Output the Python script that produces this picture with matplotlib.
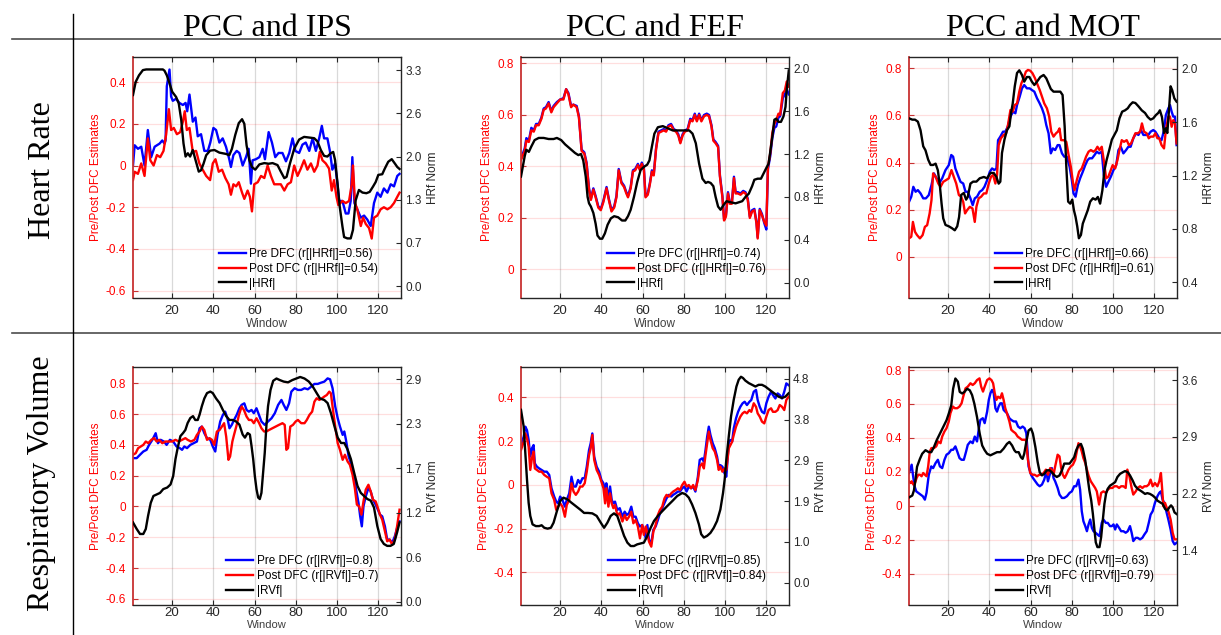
import matplotlib
matplotlib.use("Agg")
import matplotlib.pyplot as plt
from matplotlib.lines import Line2D
import numpy as np

plt.rcParams["font.family"] = ["Liberation Sans", "DejaVu Sans"]

# ---------------------------------------------------------------- labels
col_titles = ["PCC and IPS", "PCC and FEF", "PCC and MOT"]
row_titles = ["Heart Rate", "Respiratory Volume"]
row_signal = ["HRf", "RVf"]
window_ticks = [20, 40, 60, 80, 100, 120]
r_pre = [[0.56, 0.74, 0.66], [0.8, 0.85, 0.63]]
r_post = [[0.54, 0.76, 0.61], [0.7, 0.84, 0.79]]

# ---------------------------------------------------------------- PCC-IPS, heart rate
ips_hr_pre_w = [1, 1.8, 3.4, 5.0, 6.6, 8.2, 9.8, 11.5, 13.9, 15.2, 16.3, 16.8, 17.4, 18.7, 19.5, 20.3, 21.9, 23.5, 25.2, 26.5, 27.3, 28.4, 30.0, 31.3, 32.4, 34.0, 35.6, 37.3, 38.5, 40.0, 41.3, 42.9, 44.5, 46.1, 47.7, 48.5, 49.7, 51.3, 52.6, 54.2, 55.8, 57.1, 58.2, 59.0, 60.6, 62.3, 63.9, 65.0, 66.8, 68.4, 70.0, 71.6, 73.5, 75.2, 76.8, 78.4, 79.7, 81.6, 83.2, 84.8, 86.5, 88.1, 89.7, 91.3, 92.6, 93.7, 95.3, 96.5, 97.7, 99.0, 100.2, 101.0, 102.6, 104.2, 105.5, 106.6, 107.4, 108.4, 109.8, 111.5, 113.1, 114.7, 116.3, 117.9, 119.5, 121.1, 122.7, 124.4, 126.0, 127.6, 129.2, 130.3]
ips_hr_pre = [0.0, 0.097, 0.08, 0.09, 0.0, 0.17, 0.04, 0.09, 0.105, 0.12, 0.105, 0.12, 0.38, 0.46, 0.33, 0.31, 0.32, 0.30, 0.29, 0.30, 0.26, 0.34, 0.21, 0.23, 0.14, 0.15, 0.07, 0.07, 0.11, 0.18, 0.17, 0.11, 0.13, 0.09, 0.03, -0.007, 0.05, 0.07, 0.06, 0.0, 0.04, 0.08, -0.087, 0.025, 0.03, 0.04, 0.08, 0.03, 0.16, 0.11, 0.04, 0.06, 0.06, 0.02, 0.06, 0.13, 0.07, 0.06, 0.10, 0.11, 0.07, 0.13, 0.07, 0.13, 0.19, 0.13, 0.13, 0.07, -0.02, 0.01, -0.09, -0.17, -0.17, -0.23, -0.23, -0.17, 0.04, -0.18, -0.21, -0.25, -0.24, -0.26, -0.29, -0.18, -0.13, -0.15, -0.11, -0.13, -0.09, -0.10, -0.05, -0.04]
ips_hr_post_w = [1, 1.8, 3.4, 5.0, 6.6, 8.2, 9.4, 11.0, 12.6, 14.2, 15.8, 17.1, 18.4, 19.5, 20.8, 22.3, 23.9, 25.2, 26.1, 27.1, 28.4, 30.0, 31.6, 33.2, 34.8, 36.5, 38.4, 39.7, 41.0, 42.6, 44.2, 45.8, 47.4, 48.5, 49.7, 51.0, 52.3, 53.9, 55.0, 56.6, 57.7, 58.7, 59.8, 61.5, 63.1, 64.7, 66.3, 67.9, 69.5, 71.1, 72.7, 74.4, 76.0, 77.6, 79.2, 80.8, 82.4, 84.0, 85.6, 87.3, 88.9, 90.5, 91.6, 92.9, 94.5, 96.1, 97.4, 98.5, 99.7, 100.6, 102.6, 104.2, 105.8, 107.1, 107.7, 108.7, 109.8, 111.5, 112.6, 113.9, 115.5, 116.8, 117.9, 119.5, 121.1, 122.7, 124.4, 126.0, 127.6, 129.2, 130.3]
ips_hr_post = [-0.07, -0.03, -0.04, 0.01, -0.05, 0.13, 0.025, 0.0, 0.05, 0.04, 0.07, 0.15, 0.27, 0.17, 0.18, 0.15, 0.16, 0.21, 0.26, 0.17, 0.18, 0.065, 0.07, 0.01, -0.02, -0.05, -0.07, 0.01, 0.03, -0.03, -0.02, -0.06, -0.09, -0.14, -0.09, -0.10, -0.08, -0.13, -0.16, -0.12, -0.15, -0.22, -0.09, -0.08, -0.05, -0.06, 0.0, -0.05, -0.09, -0.09, -0.09, -0.12, -0.09, -0.08, 0.0, -0.05, -0.015, 0.025, -0.02, 0.01, -0.03, 0.0, 0.065, 0.025, 0.01, -0.015, -0.12, -0.07, -0.15, -0.19, -0.17, -0.18, -0.17, -0.09, 0.0, -0.18, -0.21, -0.29, -0.25, -0.28, -0.30, -0.35, -0.25, -0.24, -0.21, -0.20, -0.21, -0.20, -0.18, -0.15, -0.13]
ips_hr_norm_w = [1, 2.3, 3.9, 5.8, 7.4, 11.5, 15.5, 16.3, 17.4, 18.7, 20.0, 21.9, 23.2, 24.4, 25.5, 26.5, 27.6, 28.7, 30.0, 31.3, 32.9, 34.0, 35.2, 36.5, 38.4, 40.5, 42.9, 46.1, 47.7, 49.0, 50.6, 52.3, 53.9, 55.0, 56.1, 57.4, 58.7, 60.3, 62.3, 64.7, 66.8, 68.7, 71.1, 72.7, 74.4, 75.5, 77.1, 79.2, 81.6, 84.0, 86.5, 88.9, 90.5, 92.1, 93.7, 95.3, 96.9, 98.1, 99.0, 100.2, 101.3, 102.6, 103.4, 105.0, 106.6, 107.7, 109.0, 110.6, 112.3, 114.2, 115.8, 117.4, 118.7, 120.0, 121.9, 123.2, 124.8, 126.5, 128.1, 129.2, 130.3]
ips_hr_norm = [2.92, 3.12, 3.22, 3.30, 3.31, 3.31, 3.31, 3.29, 3.22, 3.10, 2.97, 2.89, 2.79, 2.54, 2.18, 1.98, 2.03, 1.98, 2.08, 1.93, 1.75, 1.77, 1.87, 2.0, 2.07, 2.08, 2.04, 2.02, 2.0, 2.1, 2.31, 2.49, 2.55, 2.48, 2.15, 1.93, 1.82, 1.78, 1.86, 1.88, 1.87, 1.88, 1.85, 1.75, 1.65, 1.67, 1.87, 2.10, 2.24, 2.28, 2.27, 2.26, 2.21, 2.08, 1.99, 1.98, 2.03, 2.05, 1.93, 1.57, 1.21, 0.91, 0.75, 0.73, 0.73, 0.86, 1.31, 1.47, 1.43, 1.42, 1.44, 1.52, 1.59, 1.70, 1.71, 1.80, 1.90, 1.94, 1.87, 1.82, 1.79]

# ---------------------------------------------------------------- PCC-FEF, heart rate
fef_hr_w = [1, 2.8, 3.6, 4.8, 6.0, 7.2, 8.3, 9.6, 10.9, 12.0, 13.1, 14.4, 15.7, 16.8, 18.4, 20.0, 21.6, 22.9, 24.0, 25.3, 26.4, 28.0, 29.1, 30.4, 31.7, 32.8, 34.0, 34.9, 36.1, 37.2, 38.5, 39.7, 40.9, 42.5, 43.6, 44.9, 46.2, 47.3, 48.4, 49.7, 51.0, 52.1, 52.9, 54.2, 55.3, 56.4, 57.7, 58.7, 59.6, 60.6, 61.4, 62.5, 63.5, 64.5, 65.4, 66.5, 67.7, 69.0, 70.2, 71.4, 72.5, 73.8, 75.1, 76.2, 77.3, 78.3, 79.4, 80.5, 81.8, 83.1, 84.2, 85.3, 86.3, 87.4, 88.5, 89.8, 91.1, 92.2, 93.4, 94.3, 95.4, 96.6, 97.5, 98.7, 99.5, 100.4, 101.4, 102.3, 103.3, 104.3, 105.1, 106.2, 107.5, 108.8, 109.9, 111.0, 112.0, 113.1, 114.2, 115.2, 115.8, 116.8, 117.9, 119.0, 120.0, 120.8, 121.9, 122.9, 123.9, 124.8, 125.9, 126.7, 128.0, 129.0, 129.9, 130.9]
fef_hr_pre = [0.43, 0.47, 0.51, 0.50, 0.55, 0.54, 0.565, 0.565, 0.59, 0.625, 0.63, 0.65, 0.615, 0.635, 0.65, 0.66, 0.665, 0.70, 0.685, 0.635, 0.64, 0.635, 0.595, 0.465, 0.455, 0.415, 0.315, 0.275, 0.315, 0.285, 0.245, 0.235, 0.265, 0.32, 0.275, 0.23, 0.245, 0.285, 0.39, 0.34, 0.325, 0.30, 0.285, 0.32, 0.385, 0.39, 0.41, 0.39, 0.415, 0.395, 0.285, 0.295, 0.335, 0.385, 0.37, 0.47, 0.535, 0.54, 0.545, 0.54, 0.56, 0.565, 0.545, 0.54, 0.525, 0.495, 0.525, 0.54, 0.545, 0.585, 0.58, 0.605, 0.58, 0.605, 0.58, 0.60, 0.605, 0.60, 0.56, 0.505, 0.495, 0.48, 0.365, 0.285, 0.195, 0.21, 0.30, 0.26, 0.26, 0.36, 0.30, 0.30, 0.295, 0.305, 0.30, 0.275, 0.205, 0.23, 0.235, 0.185, 0.125, 0.235, 0.215, 0.18, 0.155, 0.39, 0.44, 0.51, 0.55, 0.555, 0.59, 0.595, 0.665, 0.68, 0.70, 0.68]
fef_hr_post = [0.425, 0.46, 0.50, 0.495, 0.54, 0.535, 0.56, 0.56, 0.585, 0.62, 0.625, 0.645, 0.61, 0.63, 0.645, 0.66, 0.66, 0.70, 0.68, 0.63, 0.64, 0.63, 0.59, 0.46, 0.45, 0.41, 0.31, 0.27, 0.31, 0.28, 0.24, 0.23, 0.26, 0.315, 0.27, 0.225, 0.24, 0.28, 0.385, 0.335, 0.32, 0.295, 0.28, 0.315, 0.38, 0.385, 0.405, 0.385, 0.41, 0.39, 0.28, 0.29, 0.33, 0.38, 0.365, 0.465, 0.53, 0.535, 0.54, 0.535, 0.555, 0.56, 0.54, 0.535, 0.52, 0.49, 0.52, 0.535, 0.54, 0.58, 0.575, 0.60, 0.575, 0.60, 0.575, 0.595, 0.60, 0.595, 0.555, 0.50, 0.49, 0.475, 0.36, 0.28, 0.19, 0.205, 0.295, 0.255, 0.255, 0.355, 0.295, 0.295, 0.29, 0.30, 0.295, 0.27, 0.20, 0.225, 0.23, 0.18, 0.12, 0.23, 0.21, 0.185, 0.17, 0.40, 0.45, 0.53, 0.565, 0.58, 0.605, 0.60, 0.685, 0.695, 0.73, 0.71]
fef_hr_norm_w = [1, 2.8, 3.6, 4.8, 6.0, 7.6, 9.6, 12.0, 14.4, 16.8, 18.4, 20.5, 22.4, 24.8, 27.2, 28.8, 30.1, 31.2, 32.4, 33.3, 34.0, 34.9, 36.1, 37.2, 38.1, 39.3, 40.4, 41.7, 43.0, 44.6, 46.2, 48.1, 50.0, 51.6, 52.9, 54.2, 55.8, 57.4, 59.0, 60.6, 62.2, 63.3, 64.5, 65.7, 67.4, 69.8, 72.2, 74.6, 77.0, 80.2, 82.6, 84.2, 85.8, 87.4, 89.0, 90.6, 91.7, 93.0, 94.3, 95.4, 96.6, 97.8, 99.1, 100.7, 102.7, 105.1, 106.7, 108.3, 109.9, 111.5, 113.1, 114.2, 115.8, 117.4, 118.7, 120.0, 121.1, 121.9, 122.9, 123.9, 124.8, 125.9, 127.1, 128.3, 129.3, 129.9, 130.9]
fef_hr_norm = [0.99, 1.18, 1.24, 1.22, 1.27, 1.33, 1.35, 1.35, 1.34, 1.34, 1.35, 1.33, 1.29, 1.25, 1.21, 1.19, 1.20, 1.14, 0.99, 0.80, 0.74, 0.71, 0.65, 0.55, 0.44, 0.41, 0.41, 0.46, 0.54, 0.60, 0.62, 0.61, 0.58, 0.58, 0.62, 0.68, 0.80, 0.94, 1.05, 1.08, 1.10, 1.14, 1.27, 1.39, 1.45, 1.46, 1.44, 1.42, 1.42, 1.42, 1.42, 1.39, 1.30, 1.11, 0.97, 0.93, 0.94, 0.93, 0.90, 0.80, 0.71, 0.68, 0.72, 0.76, 0.75, 0.74, 0.75, 0.76, 0.80, 0.83, 0.90, 0.96, 0.97, 0.97, 1.02, 1.07, 1.11, 1.22, 1.36, 1.52, 1.53, 1.50, 1.50, 1.55, 1.64, 1.80, 1.98]

# ---------------------------------------------------------------- PCC-MOT, heart rate
mot_hr_pre_w = [1, 2.1, 3.1, 4.2, 5.3, 6.6, 7.9, 9.2, 10.6, 11.9, 13.1, 14.4, 15.6, 17.1, 18.7, 20.3, 21.5, 22.4, 23.5, 24.7, 26.0, 27.3, 28.4, 29.5, 30.8, 31.9, 32.9, 34.0, 35.3, 36.5, 37.6, 38.9, 40.2, 41.3, 42.4, 43.4, 44.2, 45.3, 46.6, 47.7, 48.9, 50.2, 51.5, 52.6, 53.4, 54.7, 55.8, 56.9, 58.2, 59.5, 60.6, 61.8, 63.1, 64.4, 65.5, 66.6, 67.6, 68.7, 69.8, 70.8, 71.9, 73.1, 74.0, 75.2, 76.3, 77.6, 78.9, 80.0, 80.8, 81.8, 82.9, 84.0, 85.3, 86.5, 87.6, 88.5, 89.8, 91.0, 92.1, 93.2, 94.5, 95.5, 96.6, 97.7, 98.9, 100.2, 101.5, 102.6, 103.7, 105.0, 106.3, 107.4, 108.5, 109.8, 111.1, 112.3, 113.5, 114.7, 116.0, 117.1, 118.2, 119.5, 120.5, 121.5, 122.4, 123.5, 124.7, 125.6, 126.8, 127.6, 128.4, 129.2, 130.0, 130.8]
mot_hr_pre = [0.233, 0.255, 0.297, 0.276, 0.283, 0.269, 0.248, 0.248, 0.262, 0.304, 0.354, 0.333, 0.311, 0.333, 0.368, 0.389, 0.432, 0.425, 0.375, 0.347, 0.318, 0.311, 0.276, 0.276, 0.248, 0.219, 0.248, 0.255, 0.276, 0.283, 0.297, 0.325, 0.361, 0.375, 0.368, 0.375, 0.495, 0.510, 0.531, 0.531, 0.552, 0.595, 0.616, 0.609, 0.644, 0.680, 0.715, 0.729, 0.715, 0.715, 0.708, 0.701, 0.673, 0.651, 0.630, 0.602, 0.559, 0.524, 0.439, 0.460, 0.453, 0.474, 0.474, 0.439, 0.425, 0.425, 0.382, 0.325, 0.269, 0.255, 0.304, 0.333, 0.361, 0.389, 0.410, 0.418, 0.418, 0.432, 0.446, 0.439, 0.446, 0.347, 0.297, 0.318, 0.340, 0.368, 0.389, 0.453, 0.467, 0.439, 0.453, 0.467, 0.467, 0.503, 0.524, 0.517, 0.538, 0.517, 0.517, 0.517, 0.531, 0.538, 0.531, 0.517, 0.503, 0.495, 0.538, 0.602, 0.630, 0.644, 0.616, 0.595, 0.595, 0.474]
mot_hr_post_w = [1, 2.1, 2.9, 3.9, 4.9, 6.3, 7.6, 8.7, 9.8, 11.0, 11.9, 12.7, 13.9, 15.2, 16.3, 17.6, 18.9, 20.3, 21.6, 22.7, 23.9, 25.2, 26.3, 27.3, 28.2, 29.2, 30.5, 31.8, 32.9, 33.7, 34.8, 36.0, 37.3, 38.5, 39.7, 40.8, 41.8, 42.9, 43.7, 44.5, 45.6, 46.9, 48.1, 49.0, 50.2, 51.3, 52.3, 53.4, 54.5, 55.5, 56.6, 57.7, 58.7, 59.8, 60.9, 62.1, 63.1, 64.4, 65.5, 66.6, 67.9, 69.0, 70.0, 71.1, 72.3, 73.2, 74.0, 74.8, 76.0, 77.3, 78.4, 79.5, 80.5, 81.3, 82.4, 83.5, 84.8, 86.0, 86.9, 88.1, 89.2, 90.5, 91.5, 92.4, 93.4, 94.5, 95.6, 96.6, 97.7, 98.9, 99.8, 101.0, 102.1, 103.1, 104.2, 105.3, 106.6, 107.7, 108.7, 109.8, 110.8, 111.9, 113.1, 114.0, 115.0, 116.3, 117.3, 118.2, 119.5, 120.5, 121.5, 122.4, 123.5, 124.7, 125.6, 126.8, 127.6, 128.4, 129.2, 130.0, 130.8]
mot_hr_post = [0.078, 0.085, 0.148, 0.106, 0.092, 0.078, 0.092, 0.127, 0.134, 0.184, 0.240, 0.354, 0.340, 0.311, 0.297, 0.318, 0.325, 0.333, 0.368, 0.340, 0.311, 0.262, 0.255, 0.233, 0.184, 0.198, 0.212, 0.205, 0.148, 0.212, 0.248, 0.255, 0.269, 0.269, 0.311, 0.340, 0.347, 0.311, 0.347, 0.474, 0.503, 0.517, 0.524, 0.559, 0.623, 0.616, 0.644, 0.651, 0.701, 0.736, 0.758, 0.786, 0.793, 0.790, 0.779, 0.758, 0.736, 0.708, 0.680, 0.651, 0.630, 0.595, 0.531, 0.510, 0.524, 0.531, 0.545, 0.495, 0.495, 0.488, 0.432, 0.382, 0.318, 0.283, 0.325, 0.361, 0.375, 0.403, 0.425, 0.446, 0.453, 0.446, 0.453, 0.467, 0.453, 0.467, 0.403, 0.333, 0.340, 0.368, 0.389, 0.375, 0.410, 0.453, 0.495, 0.488, 0.495, 0.474, 0.481, 0.503, 0.524, 0.524, 0.531, 0.566, 0.531, 0.524, 0.503, 0.510, 0.510, 0.524, 0.503, 0.503, 0.474, 0.460, 0.538, 0.595, 0.595, 0.552, 0.580, 0.566, 0.481]
mot_hr_norm_w = [1, 2.6, 3.9, 5.3, 6.6, 7.9, 9.0, 10.3, 11.5, 12.7, 13.9, 15.0, 16.0, 16.8, 17.6, 18.7, 20.3, 21.9, 23.2, 24.4, 25.3, 26.3, 27.6, 28.7, 29.5, 30.8, 32.1, 33.7, 35.3, 37.3, 38.9, 40.5, 42.1, 43.4, 44.5, 45.3, 46.1, 47.3, 48.5, 49.7, 50.5, 51.3, 52.3, 53.4, 54.5, 55.8, 56.9, 58.2, 59.4, 60.6, 61.8, 63.1, 64.7, 66.3, 67.6, 68.7, 69.8, 71.1, 72.7, 74.4, 75.5, 76.5, 77.3, 78.2, 79.2, 80.2, 81.0, 81.8, 82.6, 83.4, 84.4, 85.3, 86.5, 87.7, 88.9, 90.2, 91.5, 92.6, 93.7, 94.8, 95.8, 96.9, 98.1, 99.4, 100.6, 101.8, 103.1, 104.4, 105.8, 107.1, 108.2, 109.5, 110.8, 112.3, 113.9, 115.5, 116.8, 118.2, 119.5, 120.8, 121.9, 122.7, 123.7, 124.7, 125.6, 126.3, 127.1, 127.9, 128.7, 129.7, 130.8]
mot_hr_norm = [1.63, 1.62, 1.62, 1.605, 1.54, 1.42, 1.39, 1.32, 1.28, 1.28, 1.29, 1.24, 1.12, 0.99, 0.88, 0.83, 0.82, 0.805, 0.79, 0.82, 0.89, 1.055, 1.07, 1.02, 1.04, 1.14, 1.155, 1.155, 1.18, 1.19, 1.18, 1.22, 1.22, 1.19, 1.14, 1.155, 1.37, 1.47, 1.54, 1.57, 1.67, 1.74, 1.87, 1.97, 1.99, 1.955, 1.905, 1.94, 1.94, 1.905, 1.88, 1.905, 1.94, 1.955, 1.93, 1.89, 1.85, 1.83, 1.83, 1.83, 1.805, 1.57, 1.27, 1.005, 0.99, 1.02, 0.94, 0.89, 0.82, 0.73, 0.755, 0.84, 0.89, 0.94, 1.005, 1.03, 1.02, 1.04, 0.99, 1.09, 1.24, 1.32, 1.39, 1.47, 1.505, 1.54, 1.63, 1.68, 1.69, 1.705, 1.73, 1.75, 1.745, 1.72, 1.69, 1.67, 1.64, 1.62, 1.63, 1.655, 1.67, 1.69, 1.64, 1.52, 1.555, 1.52, 1.69, 1.87, 1.84, 1.78, 1.755]

# ---------------------------------------------------------------- PCC-IPS, respiratory volume
ips_rv_pre_w = [1, 2.8, 4.4, 6.0, 7.6, 8.8, 10.4, 12.0, 13.1, 14.4, 16.0, 17.3, 18.9, 20.5, 22.1, 23.7, 24.8, 25.9, 27.2, 28.8, 30.4, 32.0, 33.3, 34.4, 35.6, 36.9, 38.5, 39.7, 40.9, 42.0, 43.3, 44.6, 45.7, 46.8, 47.8, 48.9, 50.0, 51.3, 52.6, 53.7, 55.0, 56.1, 57.2, 58.5, 59.6, 60.9, 62.1, 63.3, 64.9, 66.5, 68.2, 69.8, 71.4, 73.0, 74.1, 75.4, 76.7, 77.8, 79.4, 81.0, 82.6, 84.2, 85.8, 87.4, 89.0, 90.6, 92.2, 93.8, 95.4, 96.6, 97.8, 99.1, 100.3, 101.4, 102.7, 103.5, 104.3, 105.6, 106.7, 107.8, 109.1, 110.4, 111.2, 112.0, 112.8, 113.9, 115.2, 116.3, 117.4, 118.7, 119.8, 120.8, 121.9, 123.2, 124.3, 125.5, 126.7, 128.0, 129.1, 130.3]
ips_rv_pre = [0.314, 0.314, 0.336, 0.357, 0.368, 0.40, 0.433, 0.476, 0.411, 0.433, 0.422, 0.40, 0.433, 0.422, 0.39, 0.379, 0.368, 0.39, 0.379, 0.40, 0.411, 0.422, 0.508, 0.519, 0.476, 0.444, 0.433, 0.39, 0.357, 0.465, 0.552, 0.595, 0.616, 0.573, 0.508, 0.53, 0.562, 0.595, 0.638, 0.66, 0.67, 0.627, 0.616, 0.627, 0.606, 0.638, 0.595, 0.552, 0.53, 0.552, 0.573, 0.606, 0.66, 0.692, 0.66, 0.627, 0.67, 0.746, 0.768, 0.757, 0.757, 0.768, 0.761, 0.778, 0.796, 0.796, 0.804, 0.811, 0.832, 0.826, 0.768, 0.649, 0.573, 0.519, 0.465, 0.487, 0.433, 0.325, 0.282, 0.217, 0.12, 0.022, -0.064, -0.129, 0.001, 0.066, 0.12, 0.098, 0.044, 0.012, -0.021, -0.053, -0.064, -0.129, -0.215, -0.215, -0.237, -0.194, -0.14, -0.097]
ips_rv_post_w = [1, 2.3, 3.5, 4.8, 6.0, 7.2, 8.4, 9.9, 11.2, 12.5, 13.7, 15.2, 16.8, 18.4, 20.0, 21.6, 23.2, 24.8, 26.4, 27.5, 29.1, 30.8, 32.0, 33.3, 34.4, 35.6, 36.9, 38.1, 39.3, 40.4, 41.7, 43.0, 44.1, 45.2, 46.2, 47.3, 48.1, 49.2, 50.0, 51.3, 52.4, 53.7, 54.8, 56.1, 57.2, 58.5, 59.6, 60.9, 62.2, 63.3, 64.6, 65.7, 67.0, 68.6, 70.2, 71.8, 73.5, 74.6, 75.4, 76.2, 77.3, 78.6, 79.9, 81.0, 82.6, 84.2, 85.3, 86.6, 87.9, 89.0, 90.1, 91.4, 92.7, 93.8, 95.0, 96.2, 97.0, 97.8, 99.1, 100.3, 101.4, 102.7, 103.8, 105.1, 106.2, 107.5, 108.6, 109.6, 110.7, 111.8, 112.8, 113.9, 115.2, 116.3, 117.4, 118.7, 119.8, 120.8, 121.9, 123.2, 124.3, 125.5, 126.7, 128.0, 129.1, 130.3]
ips_rv_post = [0.336, 0.346, 0.379, 0.39, 0.40, 0.422, 0.411, 0.433, 0.444, 0.422, 0.433, 0.411, 0.422, 0.422, 0.422, 0.433, 0.422, 0.433, 0.444, 0.433, 0.422, 0.433, 0.465, 0.487, 0.519, 0.497, 0.433, 0.444, 0.433, 0.40, 0.487, 0.497, 0.519, 0.541, 0.454, 0.303, 0.325, 0.422, 0.465, 0.53, 0.595, 0.649, 0.627, 0.584, 0.562, 0.562, 0.541, 0.573, 0.541, 0.508, 0.487, 0.487, 0.497, 0.508, 0.519, 0.53, 0.541, 0.53, 0.368, 0.379, 0.519, 0.53, 0.552, 0.562, 0.541, 0.541, 0.562, 0.595, 0.616, 0.681, 0.703, 0.692, 0.703, 0.714, 0.724, 0.746, 0.735, 0.649, 0.519, 0.411, 0.368, 0.303, 0.336, 0.292, 0.271, 0.206, 0.12, 0.012, 0.001, -0.053, 0.033, 0.109, 0.141, 0.098, 0.044, 0.033, -0.01, -0.053, -0.086, -0.161, -0.226, -0.215, -0.248, -0.215, -0.129, -0.021]
ips_rv_norm_w = [1, 2.8, 4.4, 6.0, 7.2, 8.3, 9.6, 10.9, 12.5, 14.1, 15.7, 17.6, 19.2, 20.5, 21.6, 22.7, 24.0, 25.3, 26.4, 27.5, 28.8, 30.1, 31.2, 32.4, 33.3, 34.4, 35.6, 36.9, 38.5, 39.7, 41.3, 43.0, 44.6, 46.2, 47.8, 49.4, 51.0, 52.6, 54.2, 55.3, 56.6, 57.7, 58.5, 59.3, 60.1, 60.9, 61.7, 62.5, 63.3, 64.1, 64.9, 65.7, 66.5, 67.7, 69.0, 70.6, 72.2, 74.1, 76.2, 78.3, 80.2, 82.1, 84.2, 86.3, 88.2, 90.1, 91.7, 93.8, 95.4, 97.0, 98.7, 100.3, 101.9, 103.5, 105.1, 106.7, 108.3, 109.9, 111.5, 113.1, 114.7, 116.3, 117.9, 119.5, 121.1, 122.7, 124.3, 125.9, 127.5, 129.1, 130.3]
ips_rv_norm = [1.035, 0.95, 0.885, 0.885, 0.95, 1.12, 1.29, 1.38, 1.40, 1.42, 1.47, 1.49, 1.53, 1.64, 1.86, 2.01, 2.16, 2.20, 2.24, 2.33, 2.395, 2.42, 2.37, 2.37, 2.44, 2.55, 2.65, 2.72, 2.74, 2.72, 2.65, 2.59, 2.50, 2.42, 2.37, 2.37, 2.35, 2.31, 2.18, 2.14, 2.20, 2.18, 2.03, 1.86, 1.64, 1.47, 1.36, 1.34, 1.42, 1.68, 1.94, 2.29, 2.55, 2.76, 2.88, 2.91, 2.89, 2.87, 2.86, 2.89, 2.91, 2.93, 2.91, 2.87, 2.805, 2.72, 2.65, 2.63, 2.59, 2.46, 2.29, 2.14, 2.07, 2.07, 1.985, 1.86, 1.68, 1.51, 1.42, 1.38, 1.34, 1.32, 1.23, 0.99, 0.82, 0.755, 0.73, 0.73, 0.755, 0.905, 1.035]

# ---------------------------------------------------------------- PCC-FEF, respiratory volume
fef_rv_w = [1, 2.3, 3.1, 3.9, 4.7, 5.5, 6.3, 7.1, 7.7, 8.7, 9.8, 11.0, 12.3, 13.5, 14.7, 15.8, 17.1, 18.1, 19.0, 20.0, 21.1, 22.3, 23.2, 24.4, 25.5, 26.5, 27.6, 28.7, 29.7, 30.8, 31.9, 32.9, 34.0, 34.8, 35.6, 36.5, 37.7, 38.9, 40.0, 41.0, 41.8, 42.4, 43.4, 44.2, 45.0, 45.8, 46.6, 47.7, 48.9, 50.2, 51.3, 52.3, 53.4, 54.5, 55.5, 56.6, 57.7, 58.7, 59.8, 60.6, 61.5, 62.3, 63.1, 64.2, 65.2, 66.3, 67.4, 68.4, 69.5, 70.6, 71.6, 72.7, 73.9, 74.8, 76.0, 77.1, 78.1, 79.2, 80.3, 81.3, 82.4, 83.5, 84.5, 85.6, 86.8, 87.7, 88.9, 89.7, 90.5, 91.3, 92.1, 92.9, 94.0, 95.0, 96.1, 96.9, 97.7, 98.7, 99.7, 100.6, 101.8, 102.6, 103.4, 104.2, 105.3, 106.3, 107.4, 108.5, 109.5, 110.6, 111.8, 112.7, 113.9, 115.0, 115.8, 116.8, 117.9, 119.0, 120.0, 121.1, 122.3, 123.2, 124.4, 125.5, 126.5, 127.6, 128.7, 129.7, 130.8]
fef_rv_pre = [0.182, 0.22, 0.266, 0.25, 0.205, 0.129, 0.167, 0.182, 0.098, 0.083, 0.075, 0.068, 0.06, 0.06, 0.045, -0.016, -0.054, -0.077, -0.085, -0.054, -0.069, -0.1, -0.069, -0.039, 0.037, -0.008, -0.008, 0.022, 0.007, 0.03, 0.03, 0.083, 0.159, 0.19, 0.235, 0.129, 0.083, 0.06, 0.022, 0.007, -0.031, 0.007, -0.069, -0.008, -0.069, -0.085, -0.077, -0.115, -0.107, -0.146, -0.123, -0.138, -0.13, -0.1, -0.146, -0.146, -0.176, -0.191, -0.184, -0.206, -0.245, -0.184, -0.252, -0.267, -0.206, -0.191, -0.161, -0.13, -0.107, -0.085, -0.062, -0.046, -0.054, -0.046, -0.039, -0.031, -0.031, -0.016, -0.008, -0.031, -0.008, -0.016, -0.008, -0.031, 0.037, 0.114, 0.121, 0.106, 0.159, 0.22, 0.266, 0.228, 0.19, 0.167, 0.129, 0.083, 0.09, 0.083, 0.053, 0.037, 0.197, 0.205, 0.197, 0.258, 0.304, 0.334, 0.357, 0.373, 0.38, 0.365, 0.38, 0.388, 0.426, 0.434, 0.388, 0.357, 0.334, 0.327, 0.373, 0.403, 0.426, 0.411, 0.395, 0.418, 0.411, 0.395, 0.426, 0.464, 0.456]
fef_rv_post = [0.159, 0.197, 0.235, 0.213, 0.174, 0.068, 0.121, 0.152, 0.075, 0.068, 0.06, 0.06, 0.045, 0.037, 0.03, -0.039, -0.069, -0.115, -0.1, -0.085, -0.1, -0.146, -0.092, -0.069, 0.007, -0.031, -0.046, -0.031, -0.008, -0.008, 0.007, 0.06, 0.136, 0.167, 0.228, 0.114, 0.068, 0.045, 0.014, -0.016, -0.085, -0.016, -0.1, -0.039, -0.085, -0.107, -0.092, -0.138, -0.13, -0.168, -0.138, -0.161, -0.146, -0.123, -0.176, -0.161, -0.191, -0.245, -0.184, -0.229, -0.191, -0.222, -0.26, -0.283, -0.214, -0.184, -0.138, -0.115, -0.1, -0.062, -0.046, -0.054, -0.039, -0.031, -0.024, -0.016, -0.024, -0.001, 0.014, -0.008, -0.001, -0.016, -0.001, -0.024, 0.022, 0.083, 0.098, 0.075, 0.136, 0.19, 0.243, 0.205, 0.167, 0.152, 0.114, 0.068, 0.083, 0.06, 0.075, 0.068, 0.167, 0.182, 0.197, 0.228, 0.266, 0.289, 0.312, 0.327, 0.334, 0.327, 0.342, 0.334, 0.373, 0.357, 0.327, 0.312, 0.289, 0.281, 0.312, 0.342, 0.35, 0.334, 0.334, 0.342, 0.365, 0.357, 0.342, 0.388, 0.403]
fef_rv_norm_w = [1, 2.3, 3.1, 3.9, 4.7, 5.5, 6.6, 8.2, 9.8, 11.0, 12.3, 13.9, 15.5, 16.8, 18.4, 20.0, 21.6, 23.5, 25.5, 27.6, 29.7, 31.6, 33.5, 35.6, 37.7, 39.7, 41.3, 42.9, 44.5, 46.1, 47.7, 49.4, 51.0, 52.6, 54.2, 55.8, 57.4, 59.0, 60.6, 62.3, 63.9, 65.5, 67.4, 69.5, 71.9, 74.4, 76.8, 79.2, 80.8, 82.4, 84.0, 85.6, 87.3, 88.4, 89.7, 91.3, 92.9, 94.5, 96.1, 97.7, 99.0, 99.8, 100.6, 101.8, 102.9, 104.2, 105.5, 106.6, 107.7, 108.7, 109.8, 111.5, 113.1, 114.7, 116.3, 117.9, 119.5, 121.1, 122.7, 124.4, 126.0, 127.6, 129.2, 130.8]
fef_rv_norm = [4.07, 3.68, 3.05, 2.43, 1.88, 1.57, 1.37, 1.33, 1.33, 1.35, 1.29, 1.27, 1.29, 1.41, 1.68, 1.92, 2.0, 1.96, 1.88, 1.80, 1.72, 1.64, 1.64, 1.63, 1.57, 1.41, 1.29, 1.41, 1.57, 1.63, 1.57, 1.33, 1.10, 0.94, 0.86, 0.86, 0.90, 0.92, 0.94, 1.10, 1.29, 1.45, 1.57, 1.68, 1.80, 1.92, 2.04, 2.11, 2.08, 2.0, 1.84, 1.64, 1.37, 1.14, 1.06, 1.10, 1.17, 1.29, 1.45, 1.72, 2.11, 2.43, 2.90, 3.45, 3.92, 4.31, 4.62, 4.78, 4.85, 4.82, 4.76, 4.70, 4.66, 4.62, 4.66, 4.66, 4.62, 4.56, 4.50, 4.44, 4.38, 4.35, 4.38, 4.46]

# ---------------------------------------------------------------- PCC-MOT, respiratory volume
mot_rv_pre_w = [1, 1.8, 2.3, 2.9, 3.7, 4.5, 5.5, 6.6, 7.7, 8.7, 9.5, 10.6, 11.8, 12.7, 13.9, 15.0, 16.0, 17.1, 18.2, 19.2, 20.3, 21.5, 22.4, 23.5, 24.4, 25.5, 26.5, 27.6, 28.7, 29.5, 30.8, 31.9, 32.9, 34.0, 34.8, 35.6, 36.8, 37.7, 38.9, 39.7, 40.5, 41.3, 42.1, 42.9, 43.7, 44.5, 45.3, 46.1, 46.9, 47.7, 48.5, 49.7, 50.6, 51.8, 52.9, 53.9, 55.0, 56.1, 57.1, 57.9, 59.0, 60.2, 61.1, 62.3, 63.4, 64.4, 65.5, 66.6, 67.6, 68.4, 69.5, 70.3, 71.1, 71.9, 73.1, 74.0, 75.2, 76.3, 77.6, 78.9, 80.0, 81.1, 82.1, 83.2, 84.0, 84.8, 85.6, 86.5, 87.3, 88.1, 88.9, 89.7, 90.5, 91.5, 92.4, 93.4, 94.5, 95.3, 96.5, 97.4, 98.5, 99.4, 100.2, 101.0, 101.8, 102.9, 103.9, 105.0, 106.1, 107.1, 108.2, 109.0, 109.8, 111.0, 111.9, 113.1, 114.2, 115.2, 116.3, 117.3, 118.2, 119.2, 120.3, 121.5, 122.4, 123.2, 124.0, 124.8, 125.6, 126.8, 127.9, 128.9, 129.8, 130.8]
mot_rv_pre = [0.193, 0.222, 0.242, 0.183, 0.115, 0.085, 0.076, 0.066, 0.056, 0.036, 0.076, 0.183, 0.232, 0.222, 0.252, 0.271, 0.232, 0.222, 0.271, 0.301, 0.31, 0.33, 0.33, 0.35, 0.32, 0.281, 0.271, 0.271, 0.32, 0.359, 0.379, 0.369, 0.408, 0.379, 0.448, 0.506, 0.516, 0.487, 0.555, 0.624, 0.663, 0.683, 0.663, 0.575, 0.555, 0.585, 0.604, 0.604, 0.565, 0.555, 0.546, 0.516, 0.506, 0.497, 0.497, 0.467, 0.457, 0.467, 0.457, 0.428, 0.232, 0.183, 0.164, 0.144, 0.125, 0.115, 0.125, 0.154, 0.203, 0.144, 0.193, 0.222, 0.164, 0.144, 0.105, 0.066, 0.046, 0.046, 0.056, 0.076, 0.085, 0.115, 0.115, 0.154, 0.095, -0.032, -0.091, -0.12, -0.15, -0.11, -0.081, -0.13, -0.15, -0.159, -0.169, -0.179, -0.101, -0.081, -0.101, -0.101, -0.12, -0.12, -0.11, -0.14, -0.11, -0.13, -0.15, -0.15, -0.159, -0.15, -0.12, -0.159, -0.208, -0.189, -0.189, -0.198, -0.189, -0.169, -0.15, -0.101, -0.052, -0.032, 0.017, 0.056, 0.076, 0.085, 0.036, 0.017, -0.022, -0.081, -0.14, -0.208, -0.228, -0.218]
mot_rv_post_w = [1, 1.8, 2.3, 3.1, 3.9, 4.7, 5.5, 6.3, 7.1, 7.9, 8.7, 9.5, 10.3, 11.1, 11.9, 13.1, 14.2, 15.2, 16.3, 17.1, 18.2, 19.2, 20.3, 21.1, 22.3, 23.2, 24.4, 25.5, 26.5, 27.3, 28.4, 29.5, 30.8, 31.9, 32.9, 34.0, 35.2, 36.0, 36.9, 37.7, 38.9, 40.0, 41.0, 41.8, 42.6, 43.4, 44.2, 45.3, 46.1, 46.9, 47.7, 48.5, 49.7, 50.6, 51.5, 52.6, 53.7, 54.7, 55.8, 56.9, 57.7, 58.7, 59.8, 61.0, 61.9, 63.1, 64.2, 65.2, 66.3, 67.4, 68.4, 69.5, 70.3, 71.1, 71.9, 73.1, 74.0, 74.8, 75.6, 76.5, 77.3, 78.4, 79.5, 80.5, 81.6, 82.4, 83.2, 84.0, 84.8, 85.6, 86.5, 87.3, 88.2, 89.2, 90.2, 91.3, 92.1, 93.2, 94.2, 95.3, 96.5, 97.4, 98.5, 99.7, 100.6, 101.8, 102.9, 103.9, 105.0, 106.1, 106.9, 107.9, 109.0, 109.8, 111.0, 111.9, 113.1, 114.2, 115.2, 116.3, 117.3, 118.2, 119.2, 120.3, 121.5, 122.4, 123.2, 123.7, 124.4, 125.2, 126.0, 126.8, 127.9, 128.9, 129.8, 130.8]
mot_rv_post = [0.144, 0.134, 0.144, 0.125, 0.134, 0.164, 0.183, 0.183, 0.174, 0.193, 0.183, 0.174, 0.232, 0.32, 0.34, 0.34, 0.35, 0.379, 0.369, 0.408, 0.438, 0.457, 0.497, 0.546, 0.585, 0.575, 0.575, 0.585, 0.604, 0.643, 0.692, 0.702, 0.722, 0.712, 0.722, 0.741, 0.751, 0.702, 0.673, 0.702, 0.741, 0.751, 0.741, 0.722, 0.663, 0.624, 0.643, 0.634, 0.663, 0.624, 0.575, 0.546, 0.497, 0.448, 0.438, 0.428, 0.408, 0.399, 0.389, 0.389, 0.389, 0.271, 0.193, 0.183, 0.183, 0.174, 0.183, 0.183, 0.193, 0.213, 0.183, 0.222, 0.213, 0.183, 0.232, 0.301, 0.291, 0.222, 0.183, 0.164, 0.183, 0.213, 0.232, 0.242, 0.271, 0.32, 0.369, 0.35, 0.32, 0.281, 0.252, 0.213, 0.174, 0.144, 0.125, 0.105, 0.085, 0.007, 0.076, 0.085, 0.076, 0.095, 0.105, 0.105, 0.115, 0.115, 0.105, 0.115, 0.115, 0.105, 0.213, 0.174, 0.105, 0.066, 0.085, 0.105, 0.115, 0.105, 0.115, 0.115, 0.125, 0.154, 0.115, 0.134, 0.115, 0.144, 0.193, 0.115, -0.003, 0.017, -0.012, -0.032, -0.081, -0.159, -0.198, -0.198]
mot_rv_norm_w = [1, 2.6, 3.4, 4.2, 4.9, 6.3, 7.4, 9.0, 10.6, 11.8, 13.1, 14.4, 16.0, 17.6, 19.2, 20.3, 21.5, 22.4, 23.5, 24.7, 25.6, 26.8, 27.9, 29.2, 30.5, 31.6, 32.7, 34.0, 35.3, 36.5, 37.7, 38.9, 40.5, 42.1, 43.7, 45.3, 46.9, 48.5, 49.7, 51.0, 52.1, 52.9, 54.2, 55.3, 56.1, 56.9, 57.9, 59.0, 60.2, 61.1, 62.3, 63.4, 64.4, 65.5, 66.6, 67.9, 69.2, 70.3, 71.6, 72.7, 74.0, 75.2, 76.3, 77.6, 78.9, 80.0, 81.1, 82.1, 83.2, 84.4, 85.3, 86.5, 87.6, 88.5, 89.4, 90.2, 91.0, 91.6, 92.4, 93.4, 94.2, 95.0, 95.8, 96.6, 97.4, 98.5, 99.7, 101.0, 102.1, 103.4, 104.7, 105.8, 107.1, 108.2, 109.5, 110.6, 111.9, 113.1, 114.2, 115.5, 116.6, 117.9, 119.2, 120.3, 121.5, 122.7, 124.0, 125.2, 126.3, 127.3, 128.1, 128.9, 129.8, 130.8]
mot_rv_norm = [2.11, 2.135, 2.2, 2.35, 2.5, 2.6, 2.665, 2.71, 2.685, 2.685, 2.75, 2.835, 2.92, 3.005, 3.09, 3.175, 3.28, 3.49, 3.62, 3.58, 3.45, 3.43, 3.45, 3.49, 3.47, 3.41, 3.30, 3.13, 2.92, 2.77, 2.71, 2.665, 2.645, 2.665, 2.685, 2.685, 2.73, 2.79, 2.815, 2.77, 2.71, 2.685, 2.685, 2.62, 2.60, 2.665, 2.815, 2.96, 2.985, 2.92, 2.75, 2.56, 2.43, 2.39, 2.41, 2.455, 2.455, 2.43, 2.39, 2.37, 2.39, 2.455, 2.54, 2.54, 2.54, 2.58, 2.62, 2.71, 2.77, 2.79, 2.73, 2.58, 2.37, 2.20, 2.07, 1.90, 1.69, 1.54, 1.48, 1.48, 1.605, 1.82, 2.03, 2.16, 2.22, 2.26, 2.28, 2.305, 2.37, 2.41, 2.43, 2.445, 2.43, 2.39, 2.325, 2.26, 2.22, 2.20, 2.18, 2.155, 2.165, 2.155, 2.135, 2.11, 2.07, 2.05, 2.03, 1.965, 1.945, 1.985, 2.01, 1.985, 1.92, 1.90]

# ---------------------------------------------------------------- axis ranges
left_limits = [[(-0.635, 0.52), (-0.111, 0.825), (-0.175, 0.848)],
               [(-0.64, 0.906), (-0.55, 0.539), (-0.585, 0.818)]]
left_ticks = [[[-0.6, -0.4, -0.2, 0, 0.2, 0.4], [0, 0.2, 0.4, 0.6, 0.8], [0, 0.2, 0.4, 0.6, 0.8]],
              [[-0.6, -0.4, -0.2, 0, 0.2, 0.4, 0.6, 0.8], [-0.4, -0.2, 0, 0.2, 0.4], [-0.4, -0.2, 0, 0.2, 0.4, 0.6, 0.8]]]
right_limits = [[(-0.18, 3.5), (-0.143, 2.105), (0.282, 2.09)],
                [(-0.04, 3.06), (-0.53, 5.08), (0.745, 3.766)]]
right_top = [[3.3, 2.0, 2.0], [2.9, 4.8, 3.6]]

series = [
    [(ips_hr_pre_w, ips_hr_pre, ips_hr_post_w, ips_hr_post, ips_hr_norm_w, ips_hr_norm),
     (fef_hr_w, fef_hr_pre, fef_hr_w, fef_hr_post, fef_hr_norm_w, fef_hr_norm),
     (mot_hr_pre_w, mot_hr_pre, mot_hr_post_w, mot_hr_post, mot_hr_norm_w, mot_hr_norm)],
    [(ips_rv_pre_w, ips_rv_pre, ips_rv_post_w, ips_rv_post, ips_rv_norm_w, ips_rv_norm),
     (fef_rv_w, fef_rv_pre, fef_rv_w, fef_rv_post, fef_rv_norm_w, fef_rv_norm),
     (mot_rv_pre_w, mot_rv_pre, mot_rv_post_w, mot_rv_post, mot_rv_norm_w, mot_rv_norm)],
]

# ---------------------------------------------------------------- figure
W, H = 1221, 635
fig = plt.figure(figsize=(W / 100, H / 100), dpi=100)

col_left_px = [133, 521, 909]
row_top_px = [57, 367]
row_h_px = [241, 238]
ax_w_px = 268

SPINE_RED = "#c83232"
DARK = "#262626"

for r in range(2):
    for c in range(3):
        x0 = col_left_px[c] / W
        y0 = 1 - (row_top_px[r] + row_h_px[r]) / H
        ax = fig.add_axes([x0, y0, ax_w_px / W, row_h_px[r] / H])
        ax2 = ax.twinx()
        pw, pre, qw, post, nw, norm = series[r][c]
        sig = row_signal[r]

        l1, = ax.plot(pw, pre, color="#0000ff", lw=1.7,
                      label=f"Pre DFC (r[|{sig}|]={r_pre[r][c]})")
        l2, = ax.plot(qw, post, color="#ff0000", lw=1.7,
                      label=f"Post DFC (r[|{sig}|]={r_post[r][c]})")
        l3, = ax2.plot(nw, norm, color="black", lw=1.7, label=f"|{sig}|")

        ax.set_xticks(window_ticks)
        ax.set_yticks(left_ticks[r][c])
        ax.set_yticklabels([("0" if v == 0 else f"{v:g}") for v in left_ticks[r][c]])
        ax.set_xlim(1, 131)
        ax.set_ylim(*left_limits[r][c])

        rt = np.linspace(0, right_top[r][c], 6)
        ax2.set_yticks(rt)
        ax2.set_yticklabels([f"{v:.1f}" for v in rt])
        ax2.set_ylim(*right_limits[r][c])

        # grid: grey verticals, faint red horizontals
        ax.set_axisbelow(True)
        ax.grid(axis="x", color="#d9d9d9", lw=0.9, alpha=1.0)
        ax.grid(axis="y", color="red", lw=0.9, alpha=0.13)

        # spines
        for s in ("left", "top", "bottom"):
            ax2.spines[s].set_visible(False)
        ax.spines["right"].set_visible(False)
        ax.spines["left"].set_color(SPINE_RED)
        ax.spines["left"].set_linewidth(1.3)
        ax.spines["top"].set_color(DARK)
        ax.spines["bottom"].set_color(DARK)
        for s in ("top", "bottom"):
            ax.spines[s].set_linewidth(1.0)
        ax2.spines["right"].set_color(DARK)
        ax2.spines["right"].set_linewidth(1.0)

        ax.tick_params(axis="x", direction="in", top=True, length=3.5, width=0.8,
                       labelsize=9.5, colors=DARK, pad=5 if r == 0 else 1.5)
        ax.tick_params(axis="y", direction="in", length=3.5, width=0.8,
                       colors=SPINE_RED, labelcolor="red", labelsize=8.5, pad=5)
        ax2.tick_params(axis="y", direction="in", length=3.5, width=0.8,
                        colors=DARK, labelsize=8.5, pad=3)

        if r == 0:
            ax.set_xlabel("Window", fontsize=8.5, color="#404040", labelpad=1)
        else:
            ax.set_xlabel("Window", fontsize=8, color="#404040", labelpad=0.3)
        ax.set_ylabel("Pre/Post DFC Estimates", fontsize=8.5, color="red", labelpad=3)
        ax2.set_ylabel(f"{sig} Norm", fontsize=8.5, color=DARK, labelpad=4)

        ax2.legend(handles=[l1, l2, l3], loc="lower right",
                   bbox_to_anchor=(0.915, 0.035), frameon=False, fontsize=8.5,
                   borderpad=0, borderaxespad=0, handlelength=2.3,
                   handletextpad=0.3, labelspacing=0.22)

        if r == 0:
            cx = (col_left_px[c] + ax_w_px / 2) / W
            fig.text(cx, 1 - 36 / H, col_titles[c], ha="center", va="baseline",
                     fontsize=23, family=["Liberation Serif", "DejaVu Serif"])

# row titles
for r, cy in enumerate([170, 483]):
    fig.text(42 / W, 1 - cy / H, row_titles[r], rotation=90, ha="center", va="center",
             fontsize=23, family=["Liberation Serif", "DejaVu Serif"])

# table separators
fig.add_artist(Line2D([12 / W, 1], [1 - 39 / H, 1 - 39 / H], color="#4d4d4d", lw=1.2,
                      transform=fig.transFigure))
fig.add_artist(Line2D([12 / W, 1], [1 - 333 / H, 1 - 333 / H], color="#4d4d4d", lw=1.2,
                      transform=fig.transFigure))
fig.add_artist(Line2D([72.5 / W, 72.5 / W], [1 - 14 / H, 0], color="black", lw=1.0,
                      transform=fig.transFigure))

fig.savefig("out.png", dpi=100)
